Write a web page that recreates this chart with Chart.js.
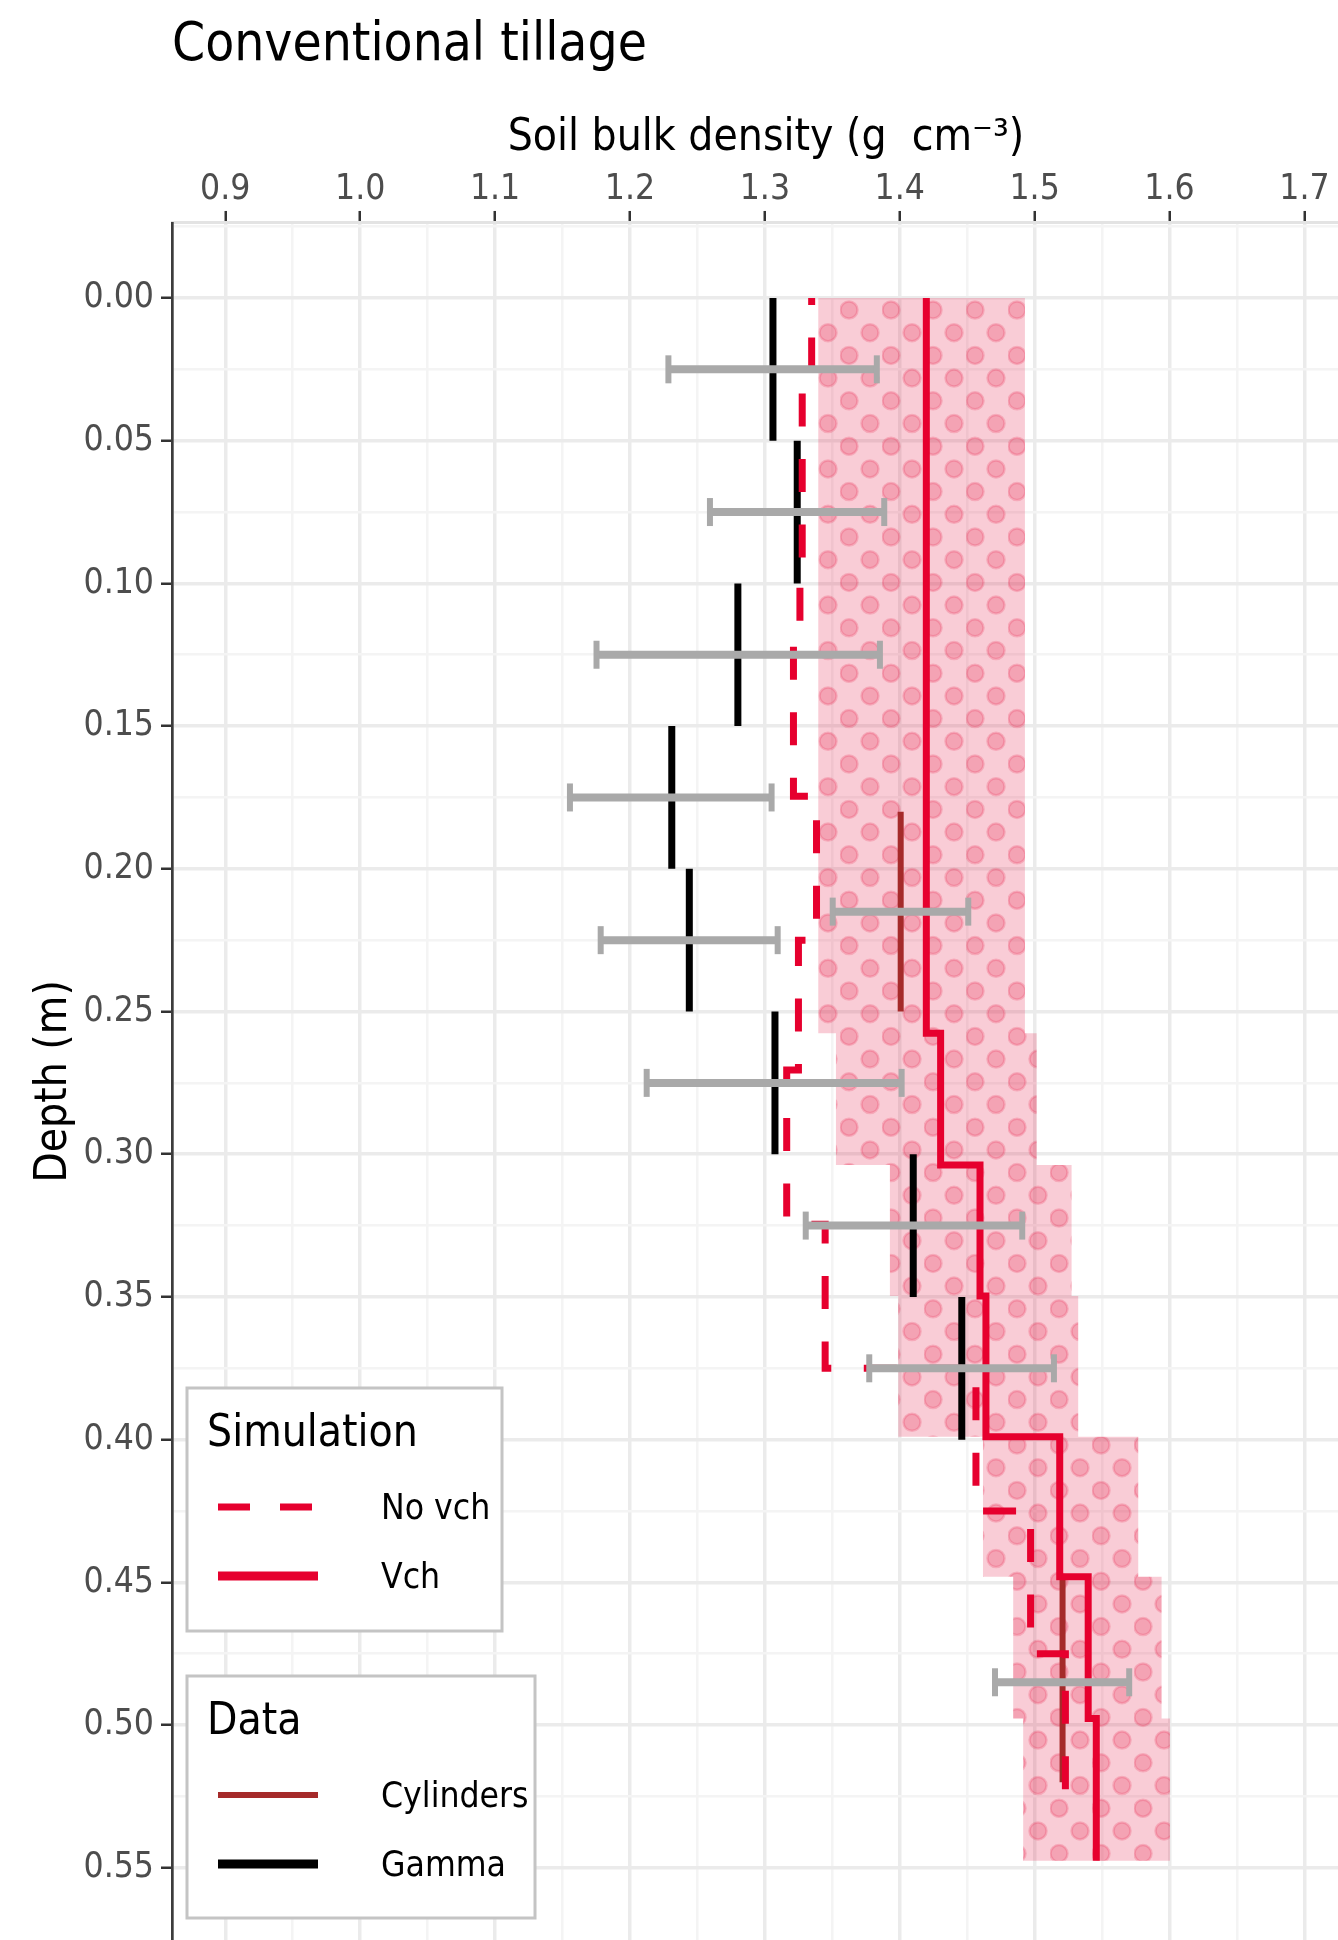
<!DOCTYPE html>
<html>
<head>
<meta charset="utf-8">
<title>Conventional tillage</title>
<script src="https://cdn.jsdelivr.net/npm/chart.js@4.4.1/dist/chart.umd.min.js"></script>
<style>
  html, body { margin: 0; padding: 0; background: #fff; overflow: hidden; }
  /* the plot panel runs a little past the right edge of the picture */
  #wrap { width: 1338px; height: 1940px; overflow: hidden; }
</style>
</head>
<body>
<div id="wrap"><canvas id="chart" width="1360" height="1940"></canvas></div>
<script>
// -----------------------------
// Axis ticks
// -----------------------------
const xTicks = [0.9, 1.0, 1.1, 1.2, 1.3, 1.4, 1.5, 1.6, 1.7];
const xTickLabels = ["0.9", "1.0", "1.1", "1.2", "1.3", "1.4", "1.5", "1.6", "1.7"];
const yTicks = [0, 0.05, 0.10, 0.15, 0.20, 0.25, 0.30, 0.35, 0.40, 0.45, 0.50, 0.55];
const yTickLabels = ["0.00", "0.05", "0.10", "0.15", "0.20", "0.25", "0.30", "0.35", "0.40", "0.45", "0.50", "0.55"];

// -----------------------------
// Simulations (depth in m, density in g cm-3)
// -----------------------------
const layerDepth = [0, 0.2576, 0.3038, 0.3497, 0.399, 0.448, 0.4977, 0.5475];
const vch = [1.4197, 1.4303, 1.4595, 1.4639, 1.5186, 1.5397, 1.5457];
const vchLow = [1.3396, 1.3527, 1.3927, 1.3989, 1.4617, 1.4841, 1.4915];
const vchHigh = [1.4928, 1.5015, 1.5274, 1.5323, 1.5768, 1.5941, 1.6003];

const noVchDepth = [0, 0.030, 0.100, 0.120, 0.1746, 0.225, 0.2705, 0.3245, 0.375, 0.425, 0.475, 0.530];
const noVch = [1.3347, 1.3277, 1.3260, 1.3212, 1.3383, 1.3249, 1.3162, 1.3447, 1.4565, 1.4970, 1.5228];

// -----------------------------
// Measurements
// -----------------------------
const gammaTop = [0, 0.05, 0.10, 0.15, 0.20, 0.25, 0.30, 0.35];
const gammaBottom = [0.05, 0.10, 0.15, 0.20, 0.25, 0.30, 0.35, 0.40];
const gamma = [1.306, 1.324, 1.280, 1.231, 1.244, 1.3075, 1.410, 1.446];
const gammaErrDepth = [0.025, 0.075, 0.125, 0.175, 0.225, 0.275, 0.325, 0.375];
const gammaLow = [1.2285, 1.2593, 1.1752, 1.1555, 1.1783, 1.2124, 1.3303, 1.3774];
const gammaHigh = [1.3830, 1.3885, 1.3853, 1.3050, 1.3095, 1.4014, 1.4908, 1.5143];

const cylTop = [0.18, 0.449];
const cylBottom = [0.25, 0.52];
const cylinders = [1.4007, 1.5207];
const cylErrDepth = [0.215, 0.485];
const cylLow = [1.3503, 1.4706];
const cylHigh = [1.4508, 1.5701];

const RED = "#E6002E";
const BROWN = "#A52A2A";
const GREY = "#A9A9A9";
const FONT = "'DejaVu Sans Condensed', 'DejaVu Sans', sans-serif";

// -----------------------------
// Helpers to turn the arrays into x/y points
// -----------------------------
function stepPoints(depths, values) {
  const pts = [];
  values.forEach((v, i) => pts.push({ x: v, y: depths[i] }, { x: v, y: depths[i + 1] }));
  return pts;
}

function segmentPoints(tops, bottoms, values) {
  const pts = [];
  values.forEach((v, i) => pts.push({ x: v, y: tops[i] }, { x: v, y: bottoms[i] }, { x: null, y: null }));
  return pts;
}

function barPoints(depths, lows, highs) {
  const pts = [];
  depths.forEach((d, i) => pts.push({ x: lows[i], y: d }, { x: highs[i], y: d }, { x: null, y: null }));
  return pts;
}

function bandPoints(depths, lows, highs) {
  const pts = [];
  lows.forEach((v, i) => pts.push({ x: v, y: depths[i] }, { x: v, y: depths[i + 1] }));
  for (let i = highs.length - 1; i >= 0; i--) {
    pts.push({ x: highs[i], y: depths[i + 1] }, { x: highs[i], y: depths[i] });
  }
  return pts;
}

// major ticks plus the minor ones halfway between
function withMinor(ticks, addBefore) {
  const out = [];
  const half = (ticks[1] - ticks[0]) / 2;
  if (addBefore) out.push(ticks[0] - half);
  ticks.forEach((t, i) => {
    out.push(t);
    if (i < ticks.length - 1) out.push((t + ticks[i + 1]) / 2);
  });
  return out;
}
const xGrid = withMinor(xTicks, false);
const yGrid = withMinor(yTicks, true);

function majorIndex(ticks, v) {
  return ticks.findIndex(t => Math.abs(t - v) < 1e-9);
}

// labels may hang over the panel edge, like in the original
function noOverflowPadding(axis) {
  axis.paddingLeft = 0;
  axis.paddingRight = 0;
  axis.paddingTop = 0;
  axis.paddingBottom = 0;
}

// dotted fill for the simulation range
function dotPattern(target) {
  const tile = document.createElement("canvas");
  tile.width = 42;
  tile.height = 227;
  const c = tile.getContext("2d");
  c.fillStyle = "rgba(225,0,50,0.2)";
  c.fillRect(0, 0, 42, 227);
  c.fillStyle = "rgba(230,40,80,0.25)";
  c.strokeStyle = "rgba(230,40,80,0.22)";
  c.lineWidth = 2.5;
  for (let k = 0; k < 10; k++) {
    const y = (83 + 22.7 * k) % 227;
    const x = k % 2 === 0 ? 9 : 30;
    [y - 227, y, y + 227].forEach(yy => {
      c.beginPath();
      c.arc(x, yy, 8.5, 0, Math.PI * 2);
      c.fill();
      c.stroke();
    });
  }
  return target.createPattern(tile, "repeat");
}

// -----------------------------
// Legends (two boxed groups)
// -----------------------------
const legendGroups = [
  { title: "Simulation", box: [187, 1388, 502, 1631], items: [
    { label: "No vch", color: RED, width: 7, dash: [32, 30] },
    { label: "Vch", color: RED, width: 9, dash: [] }
  ] },
  { title: "Data", box: [187, 1676, 535, 1918], items: [
    { label: "Cylinders", color: BROWN, width: 6, dash: [] },
    { label: "Gamma", color: "#000", width: 9, dash: [] }
  ] }
];

const legendPlugin = {
  id: "boxLegends",
  afterDraw(chart) {
    const ctx = chart.ctx;
    ctx.save();
    legendGroups.forEach(g => {
      const [l, t, r, b] = g.box;
      ctx.fillStyle = "#fff";
      ctx.fillRect(l, t, r - l, b - t);
      ctx.strokeStyle = "#C4C4C4";
      ctx.lineWidth = 3;
      ctx.setLineDash([]);
      ctx.strokeRect(l, t, r - l, b - t);

      ctx.fillStyle = "#000";
      ctx.textAlign = "left";
      ctx.textBaseline = "alphabetic";
      ctx.font = "44px " + FONT;
      ctx.fillText(g.title, l + 20, t + 58);

      g.items.forEach((it, i) => {
        const ky = t + 119 + i * 69;
        ctx.strokeStyle = it.color;
        ctx.lineWidth = it.width;
        ctx.lineCap = "butt";
        ctx.setLineDash(it.dash);
        ctx.beginPath();
        ctx.moveTo(l + 31, ky);
        ctx.lineTo(l + 131, ky);
        ctx.stroke();
        ctx.setLineDash([]);
        ctx.font = "35.2px " + FONT;
        ctx.fillText(it.label, l + 194, ky + 12);
      });
    });
    ctx.restore();
  }
};

// -----------------------------
// Chart
// -----------------------------
Chart.defaults.font.family = FONT;
Chart.defaults.color = "#000";

const canvas = document.getElementById("chart");
const ctx = canvas.getContext("2d");

const line = { showLine: true, pointRadius: 0, pointHoverRadius: 0, tension: 0, fill: false };

new Chart(ctx, {
  type: "scatter",
  data: {
    datasets: [
      {
        ...line,
        label: "error bars",
        data: barPoints(gammaErrDepth, gammaLow, gammaHigh).concat(barPoints(cylErrDepth, cylLow, cylHigh)),
        borderColor: GREY,
        borderWidth: 8,
        pointRadius: 14,
        pointStyle: "line",
        pointRotation: 90,
        pointBorderWidth: 6,
        pointBorderColor: GREY,
        pointBackgroundColor: GREY
      },
      {
        ...line,
        label: "Vch",
        data: stepPoints(layerDepth, vch),
        borderColor: RED,
        borderWidth: 7
      },
      {
        ...line,
        label: "No vch",
        data: stepPoints(noVchDepth, noVch),
        borderColor: RED,
        borderWidth: 7,
        borderDash: [33, 32.5],
        borderDashOffset: 26
      },
      {
        ...line,
        label: "Gamma",
        data: segmentPoints(gammaTop, gammaBottom, gamma),
        borderColor: "#000",
        borderWidth: 7
      },
      {
        ...line,
        label: "Cylinders",
        data: segmentPoints(cylTop, cylBottom, cylinders),
        borderColor: BROWN,
        borderWidth: 6
      },
      {
        ...line,
        label: "Vch range",
        data: bandPoints(layerDepth, vchLow, vchHigh),
        borderWidth: 0,
        fill: "shape",
        backgroundColor: dotPattern(ctx)
      }
    ]
  },
  options: {
    responsive: false,
    maintainAspectRatio: false,
    devicePixelRatio: 1,
    animation: false,
    events: [],
    layout: { padding: 0, autoPadding: false },
    plugins: {
      legend: { display: false },
      tooltip: { enabled: false },
      title: {
        display: true,
        text: "Conventional tillage",
        align: "start",
        fullSize: false,
        color: "#000",
        font: { size: 52.8, weight: "normal" },
        padding: { top: 15, bottom: 0 }
      }
    },
    scales: {
      x: {
        type: "linear",
        position: "top",
        min: 0.8605,
        max: 1.7412,
        afterBuildTicks: axis => { axis.ticks = xGrid.map(v => ({ value: v })); },
        afterFit: axis => { axis.height = 144.6; noOverflowPadding(axis); },
        ticks: {
          autoSkip: false,
          maxRotation: 0,
          padding: 0,
          color: "#4D4D4D",
          font: { size: 35.2 },
          callback: v => { const i = majorIndex(xTicks, v); return i >= 0 ? xTickLabels[i] : ""; }
        },
        grid: {
          color: c => (c.tick && majorIndex(xTicks, c.tick.value) >= 0) ? "#EBEBEB" : "#F4F4F4",
          lineWidth: c => (c.tick && majorIndex(xTicks, c.tick.value) >= 0) ? 3.5 : 2.5,
          tickLength: 12,
          tickWidth: 2.5,
          tickColor: c => (c.tick && majorIndex(xTicks, c.tick.value) >= 0) ? "#333333" : "rgba(0,0,0,0)"
        },
        border: { color: "#E3E3E3", width: 3 },
        title: {
          display: true,
          text: "Soil bulk density (g  cm⁻³)",
          color: "#000",
          font: { size: 44 },
          padding: { top: 34, bottom: 0 }
        }
      },
      y: {
        type: "linear",
        reverse: true,
        min: -0.02628,
        max: 0.5753,
        afterBuildTicks: axis => { axis.ticks = yGrid.map(v => ({ value: v })); },
        afterFit: axis => { axis.width = 172; noOverflowPadding(axis); },
        ticks: {
          autoSkip: false,
          padding: 7,
          color: "#4D4D4D",
          font: { size: 35.2 },
          callback: v => { const i = majorIndex(yTicks, v); return i >= 0 ? yTickLabels[i] : ""; }
        },
        grid: {
          color: c => (c.tick && majorIndex(yTicks, c.tick.value) >= 0) ? "#EBEBEB" : "#F4F4F4",
          lineWidth: c => (c.tick && majorIndex(yTicks, c.tick.value) >= 0) ? 3.5 : 2.5,
          tickLength: 11,
          tickWidth: 2.5,
          tickColor: c => (c.tick && majorIndex(yTicks, c.tick.value) >= 0) ? "#333333" : "rgba(0,0,0,0)"
        },
        border: { color: "#3C3C3C", width: 2.7 },
        title: {
          display: true,
          text: "Depth (m)",
          color: "#000",
          font: { size: 44 },
          padding: { top: 28, bottom: 0 }
        }
      }
    }
  },
  plugins: [legendPlugin]
});
</script>
</body>
</html>
